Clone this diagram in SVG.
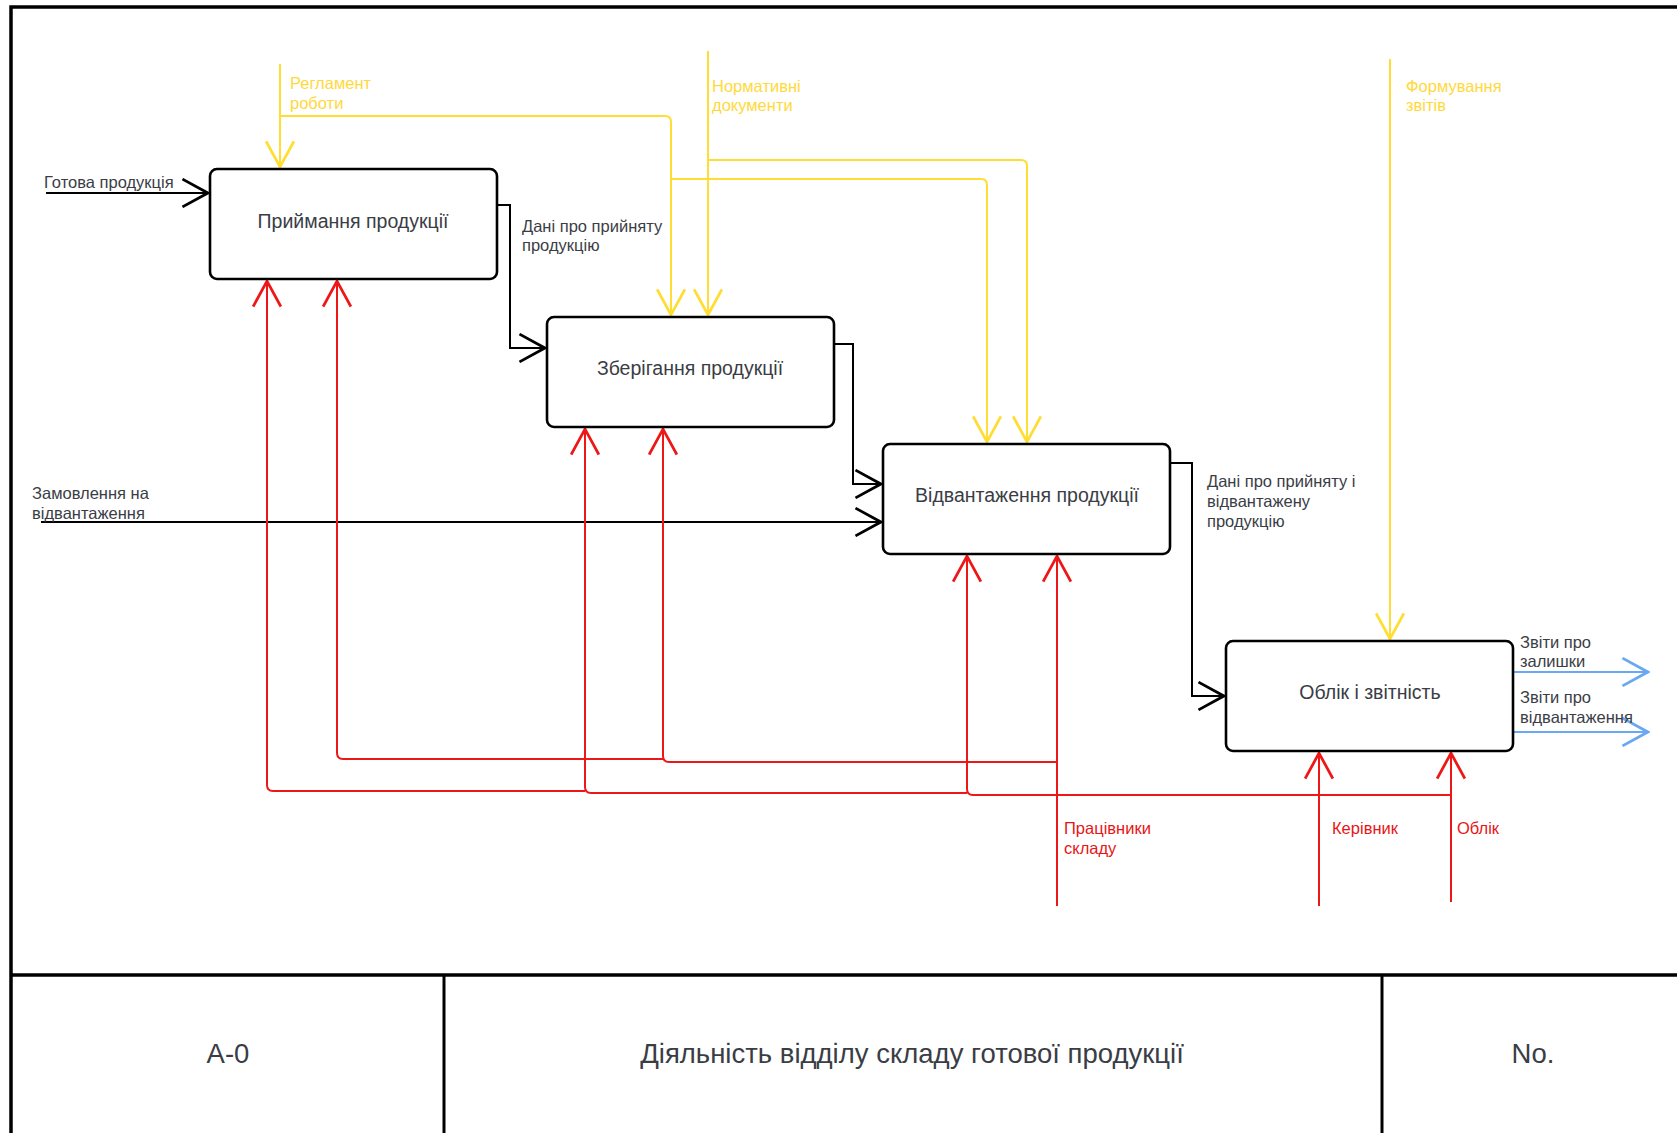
<svg xmlns="http://www.w3.org/2000/svg" width="1677" height="1133" viewBox="0 0 1677 1133">
<style>
.box{fill:#fff;stroke:#000;stroke-width:2.6}
.bt{font-family:"Liberation Sans",Arial,sans-serif;font-size:19.5px;fill:#3a3d45;text-anchor:middle}
.lb{font-family:"Liberation Sans",Arial,sans-serif;font-size:16.5px;fill:#3a3d45}
.ly{font-family:"Liberation Sans",Arial,sans-serif;font-size:16.5px;fill:#FFD93B}
.lr{font-family:"Liberation Sans",Arial,sans-serif;font-size:16.5px;fill:#E81515}
.tt{font-family:"Liberation Sans",Arial,sans-serif;font-size:27.5px;fill:#3a3d45;text-anchor:middle}
.ck{fill:none;stroke:#000;stroke-width:2;marker-end:url(#ak)}
.cya{fill:none;stroke:#FFDD33;stroke-width:2;marker-end:url(#ay)}
.cra{fill:none;stroke:#EE1717;stroke-width:2;marker-end:url(#ar)}
.cb{fill:none;stroke:#6AA8F2;stroke-width:2;marker-end:url(#ab)}
</style>
<defs>
<marker id="ak" markerUnits="userSpaceOnUse" markerWidth="30" markerHeight="30" refX="1" refY="13" viewBox="-24 0 26 26" orient="auto"><path d="M-22,1 L0,13 L-22,25" fill="none" stroke="#000" stroke-width="2.4"/></marker>
<marker id="ay" markerUnits="userSpaceOnUse" markerWidth="30" markerHeight="30" refX="1" refY="13" viewBox="-24 0 26 26" orient="auto"><path d="M-22,1 L0,13 L-22,25" fill="none" stroke="#FFDD33" stroke-width="2.4"/></marker>
<marker id="ar" markerUnits="userSpaceOnUse" markerWidth="30" markerHeight="30" refX="1" refY="13" viewBox="-24 0 26 26" orient="auto"><path d="M-22,1 L0,13 L-22,25" fill="none" stroke="#EE1717" stroke-width="2.4"/></marker>
<marker id="ab" markerUnits="userSpaceOnUse" markerWidth="30" markerHeight="30" refX="1" refY="13" viewBox="-24 0 26 26" orient="auto"><path d="M-22,1 L0,13 L-22,25" fill="none" stroke="#6AA8F2" stroke-width="2.4"/></marker>
</defs>
<rect width="1677" height="1133" fill="#fff"/>
<g id="frame" fill="none" stroke="#000">
<rect x="11" y="7" width="1720" height="1200" stroke-width="3.5"/>
<line x1="11" y1="975" x2="1677" y2="975" stroke-width="3.5"/>
<line x1="444" y1="975" x2="444" y2="1133" stroke-width="3"/>
<line x1="1382" y1="975" x2="1382" y2="1133" stroke-width="3"/>
</g>
<g id="title">
<text class="tt" x="228" y="1063">A-0</text>
<text class="tt" x="912" y="1063">Діяльність відділу складу готової продукції</text>
<text class="tt" x="1533" y="1063">No.</text>
</g>
<g id="connectors">
<path class="ck" d="M46,193 H209"/>
<path class="ck" d="M497,205 H510 V348 H546"/>
<path class="ck" d="M834,344 H853 V484 H882"/>
<path class="ck" d="M41,522 H882"/>
<path class="ck" d="M1170,463 H1192 V696 H1225"/>
<path class="cb" d="M1513,672 H1649"/>
<path class="cb" d="M1513,732 H1649"/>
<path class="cya" d="M280,64 V168"/>
<path class="cya" d="M280,116 H665 Q671,116 671,122 V316"/>
<path class="cya" d="M671,179 H981 Q987,179 987,185 V443"/>
<path class="cya" d="M708,51 V316"/>
<path class="cya" d="M708,160 H1021 Q1027,160 1027,166 V443"/>
<path class="cya" d="M1390,59 V640"/>
<path class="cra" d="M1057,906 V555"/>
<path class="cra" d="M1057,762 H669 Q663,762 663,756 V428"/>
<path class="cra" d="M663,759 H343 Q337,759 337,753 V280"/>
<path class="cra" d="M1451,902 V752"/>
<path class="cra" d="M1451,795 H973 Q967,795 967,789 V555"/>
<path class="cra" d="M967,793 H591 Q585,793 585,787 V428"/>
<path class="cra" d="M585,791 H273 Q267,791 267,785 V280"/>
<path class="cra" d="M1319,906 V752"/>
</g>
<g id="labels">
<text class="lb" x="44" y="188">Готова продукція</text>
<text class="lb" x="32" y="499">Замовлення на</text>
<text class="lb" x="32" y="519">відвантаження</text>
<text class="lb" x="522" y="232">Дані про прийняту</text>
<text class="lb" x="522" y="251">продукцію</text>
<text class="lb" x="1207" y="487">Дані про прийняту і</text>
<text class="lb" x="1207" y="507">відвантажену</text>
<text class="lb" x="1207" y="527">продукцію</text>
<text class="lb" x="1520" y="648">Звіти про</text>
<text class="lb" x="1520" y="667">залишки</text>
<text class="lb" x="1520" y="703">Звіти про</text>
<text class="lb" x="1520" y="723">відвантаження</text>
<text class="ly" x="290" y="89">Регламент</text>
<text class="ly" x="290" y="109">роботи</text>
<text class="ly" x="712" y="92">Нормативні</text>
<text class="ly" x="712" y="111">документи</text>
<text class="ly" x="1406" y="92">Формування</text>
<text class="ly" x="1406" y="111">звітів</text>
<text class="lr" x="1064" y="834">Працівники</text>
<text class="lr" x="1064" y="854">складу</text>
<text class="lr" x="1332" y="834">Керівник</text>
<text class="lr" x="1457" y="834">Облік</text>
</g>
<g id="n1"><rect class="box" x="210" y="169" width="287" height="110" rx="7"/><text class="bt" x="353" y="228">Приймання продукції</text></g>
<g id="n2"><rect class="box" x="547" y="317" width="287" height="110" rx="7"/><text class="bt" x="690" y="375">Зберігання продукції</text></g>
<g id="n3"><rect class="box" x="883" y="444" width="287" height="110" rx="7"/><text class="bt" x="1027" y="502">Відвантаження продукції</text></g>
<g id="n4"><rect class="box" x="1226" y="641" width="287" height="110" rx="7"/><text class="bt" x="1370" y="699">Облік і звітність</text></g>
</svg>
